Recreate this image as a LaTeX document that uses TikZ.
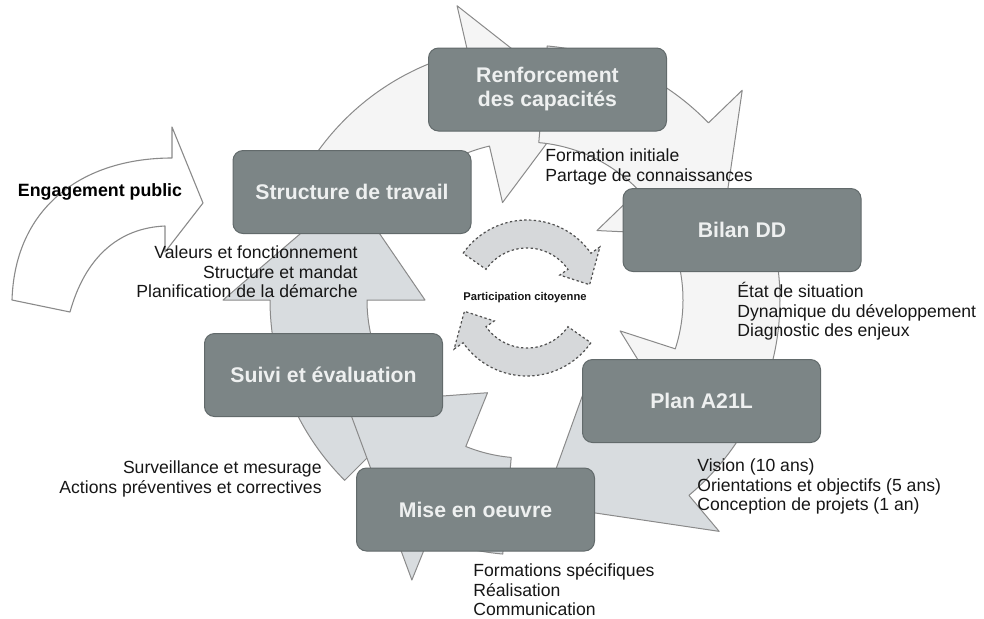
\documentclass[tikz,border=0pt]{standalone}
\usepackage{fontspec}
\setmainfont{Liberation Sans}

\definecolor{boxfill}{RGB}{124,133,134}
\definecolor{boxedge}{RGB}{98,106,107}
\definecolor{boxtext}{RGB}{238,240,240}
\definecolor{ringshade}{RGB}{216,220,223}
\definecolor{ringpale}{RGB}{245,245,245}
\definecolor{ringedge}{RGB}{138,138,138}
\definecolor{innerfill}{RGB}{214,216,218}
\definecolor{inneredge}{RGB}{80,80,80}
\definecolor{labeltext}{RGB}{22,22,22}

% curved block arrow around (\RCx,\RCy): #1 style, #2 tail angle, #3 head base angle, #4 tip angle
\newcommand\ringarrow[4]{%
  \path[#1]
    plot[domain=#2:#3,samples=40,variable=\t]
      ({\RCx+\ROut*cos(\t)},{\RCy+\ROut*sin(\t)})
    -- ({\RCx+\HOut*cos(#3)},{\RCy+\HOut*sin(#3)})
    -- ({\RCx+\RMid*cos(#4)},{\RCy+\RMid*sin(#4)})
    -- ({\RCx+\HIn*cos(#3)},{\RCy+\HIn*sin(#3)})
    -- plot[domain=#3:#2,samples=40,variable=\t]
      ({\RCx+\RIn*cos(\t)},{\RCy+\RIn*sin(\t)})
    -- cycle;}

\begin{document}
\begin{tikzpicture}[x=0.5pt,y=-0.5pt,
  stage/.style={draw=boxedge, line width=0.5pt, fill=boxfill, rounded corners=5pt,
    minimum width=119pt, minimum height=41.5pt, inner sep=0pt, align=center,
    text=boxtext, font=\fontsize{10.6}{12}\selectfont\bfseries},
  notes/.style={inner sep=0pt, text=labeltext, font=\fontsize{8.8}{9.7}\selectfont},
  bigpale/.style={fill=ringpale, draw=ringedge, line width=0.5pt, line join=round},
  bigshade/.style={fill=ringshade, draw=ringedge, line width=0.5pt, line join=round},
  smallarrow/.style={fill=innerfill, draw=inneredge, line width=0.6pt, dash pattern=on 1.2pt off 1.2pt},
  engage/.style={fill=white, draw=ringedge, line width=0.55pt, line join=round}]

\useasboundingbox (0,0) rectangle (984,618);

% outer cycle of six block arrows
\def\RCx{525}\def\RCy{300}
\def\RIn{158}\def\ROut{255}\def\HIn{100}\def\HOut{302}\def\RMid{206}
\ringarrow{bigshade}{135}{180}{212}
\ringarrow{bigpale}{-150}{-103}{-75}
\ringarrow{bigpale}{-85}{-44}{-18}
\ringarrow{bigpale}{-15}{18}{40}
\ringarrow{bigshade}{28}{50}{85}
\ringarrow{bigshade}{95}{112}{150}

% inner pair of arrows
\def\RCx{527}\def\RCy{298}
\def\RIn{50}\def\ROut{78}\def\HIn{40}\def\HOut{89}\def\RMid{64}
\ringarrow{smallarrow}{-145}{-35}{-12}
\ringarrow{smallarrow}{35}{145}{168}
\node[inner sep=0pt, text=labeltext, font=\fontsize{5.6}{6}\selectfont\bfseries]
  (part) at (525,298) {Participation citoyenne};

% public engagement arrow
\path[engage] (12,300) -- (70,312)
  .. controls (85,258) and (118,228) .. (165,226)
  -- (165,252) -- (203,203) -- (172,127) -- (172,158)
  .. controls (85,158) and (15,205) .. (12,300) -- cycle;
\node[inner sep=0pt, text=black, font=\fontsize{8.9}{10}\selectfont\bfseries]
  (eng) at (100,192) {Engagement public};

% stages
\node[stage] (ren) at (547.5,89.5) {Renforcement\\des capacités};
\node[stage] (str) at (352,192) {Structure de travail};
\node[stage] (bil) at (742,230) {Bilan DD};
\node[stage] (pla) at (701.5,401) {Plan A21L};
\node[stage] (sui) at (323.5,375) {Suivi et évaluation};
\node[stage] (mis) at (475.5,509.5) {Mise en oeuvre};

% stage details
\node[notes, anchor=north west, align=left] (renx) at (545,148.5)
  {Formation initiale\\Partage de connaissances};
\node[notes, anchor=north east, align=right] (strx) at (358,245.5)
  {Valeurs et fonctionnement\\Structure et mandat\\Planification de la démarche};
\node[notes, anchor=north west, align=left] (bilx) at (737,282)
  {État de situation\\Dynamique du développement\\Diagnostic des enjeux};
\node[notes, anchor=north west, align=left] (plax) at (697,458.5)
  {Vision (10 ans)\\Orientations et objectifs (5 ans)\\Conception de projets (1 an)};
\node[notes, anchor=north east, align=right] (suix) at (322,460.5)
  {Surveillance et mesurage\\Actions préventives et correctives};
\node[notes, anchor=north west, align=left] (misx) at (473,563.5)
  {Formations spécifiques\\Réalisation\\Communication};

\end{tikzpicture}
\end{document}
